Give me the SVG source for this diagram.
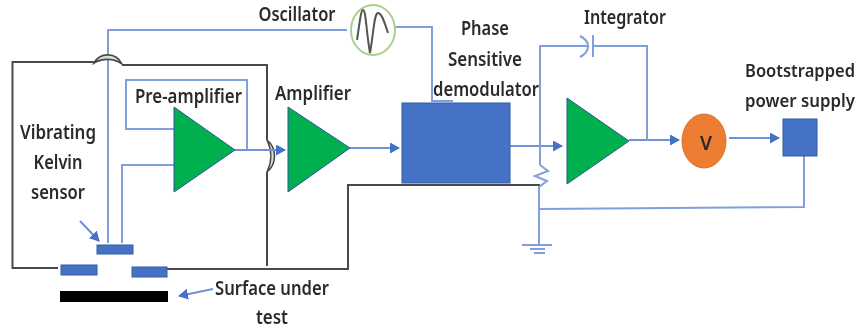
<svg xmlns="http://www.w3.org/2000/svg" width="860" height="332" viewBox="0 0 860 332">
<style>
text{font-family:"Noto Sans","Open Sans","Liberation Sans",sans-serif;font-size:19px;fill:#2b2b2b;text-anchor:middle;font-weight:600}
text.s{font-size:17.5px}
.b{fill:none;stroke:#7fa0dc;stroke-width:2}
.k{fill:none;stroke:#4a4a4a;stroke-width:2}
.a{fill:none;stroke:#6d92d6;stroke-width:2;marker-end:url(#ah)}
.tri{fill:#00b050;stroke:#2f5597;stroke-width:1}
.box{fill:#4472c4;stroke:#2f5fa8;stroke-width:1}
.arc{fill:#ddd;stroke:#4a4a4a;stroke-width:1.6}
</style>
<defs>
<marker id="ah" viewBox="0 0 10 10" refX="9" refY="5" markerWidth="10" markerHeight="11" markerUnits="userSpaceOnUse" orient="auto" preserveAspectRatio="none"><path d="M0 0L10 5L0 10z" fill="#4472c4"/></marker>
<filter id="soft" filterUnits="userSpaceOnUse" x="0" y="0" width="860" height="332"><feGaussianBlur stdDeviation="0.55"/></filter>
</defs>
<rect width="860" height="332" fill="#fff"/>
<g filter="url(#soft)">
<g id="connectors">
<path class="b" d="M347 30H108V243"/>
<path class="b" d="M395 27H432V101H453"/>
<path class="b" d="M174 129H126V80H247V150"/>
<path class="b" d="M174 165H122V243"/>
<path class="k" d="M94 62H12.500V268H58"/>
<path class="k" d="M122 65H267V140"/>
<path class="k" d="M267 172V266"/>
<path class="k" d="M167 269H348V185H540"/>
<path class="arc" d="M94 63C100 52 116 52 122 64C114 58 102 58 94 63Z"/>
<path class="arc" d="M267 140C277 148 277 164 267 172C272 162 272 150 267 140Z"/>
<path class="a" d="M235 150H285"/>
<path class="a" d="M350 148H399"/>
<path class="a" d="M510 146H562"/>
<path class="a" d="M629 140H679"/>
<path class="a" d="M729 138H779"/>
<path class="a" d="M80 221L99 241"/>
<path class="a" d="M213 289L179 296"/>
<path class="b" d="M540 165V46H588M580 36C586 39 588 43 588 46C588 50 586 54 580 57M593 35V57M593 46H647V140"/>
<path class="b" d="M540 165L548 171L535 176L547 181L539 187V245M522 245H552M530 249H545M534 253H545"/>
<path class="b" d="M804 156V207L540 209"/>
</g>
<g id="oscillator"><ellipse cx="373" cy="30" rx="22" ry="25" fill="#fff" stroke="#a9d18e" stroke-width="2"/><path d="M357 40C360 20 361 10 363 10C366 10 366 30 370 53C374 30 374 14 378 13C382 13 385 24 388 33" fill="none" stroke="#555" stroke-width="2"/><text x="297" y="21" textLength="77" lengthAdjust="spacingAndGlyphs">Oscillator</text></g>
<g id="preamp"><path class="tri" d="M174 107V192L235 150Z"/><text x="188.500" y="103" textLength="107" lengthAdjust="spacingAndGlyphs">Pre-amplifier</text></g>
<g id="amp"><path class="tri" d="M288 107V192L350 148Z"/><text x="313" y="100" textLength="76" lengthAdjust="spacingAndGlyphs">Amplifier</text></g>
<g id="demod"><rect class="box" x="402" y="103" width="108" height="80"/><text x="485" y="35" textLength="48" lengthAdjust="spacingAndGlyphs">Phase</text><text x="485" y="66" textLength="74" lengthAdjust="spacingAndGlyphs">Sensitive</text><text x="486" y="96" textLength="106" lengthAdjust="spacingAndGlyphs">demodulator</text></g>
<g id="integrator"><path class="tri" d="M567 98V184L629 141Z"/><text x="625" y="24" textLength="82" lengthAdjust="spacingAndGlyphs">Integrator</text></g>
<g id="voltmeter"><ellipse cx="704" cy="141" rx="22" ry="27" fill="#ed7d31" stroke="#d87029"/><text x="706" y="150" textLength="12" lengthAdjust="spacingAndGlyphs">V</text></g>
<g id="supply"><rect class="box" x="783" y="119" width="34" height="37"/><text class="s" x="800" y="77" textLength="110" lengthAdjust="spacingAndGlyphs">Bootstrapped</text><text class="s" x="800" y="107" textLength="110" lengthAdjust="spacingAndGlyphs">power supply</text></g>
<g id="sensor"><rect class="box" x="97" y="245" width="36" height="9"/><rect class="box" x="61" y="265" width="36" height="10"/><rect class="box" x="132" y="267" width="35" height="10"/><text x="58" y="139" textLength="76" lengthAdjust="spacingAndGlyphs">Vibrating</text><text x="58" y="169" textLength="49" lengthAdjust="spacingAndGlyphs">Kelvin</text><text x="58" y="199" textLength="54" lengthAdjust="spacingAndGlyphs">sensor</text></g>
<g id="surface"><rect x="60" y="291" width="108" height="11" fill="#000"/><text x="272" y="295" textLength="114" lengthAdjust="spacingAndGlyphs">Surface under</text><text x="272" y="324" textLength="32" lengthAdjust="spacingAndGlyphs">test</text></g>
</g>
</svg>
